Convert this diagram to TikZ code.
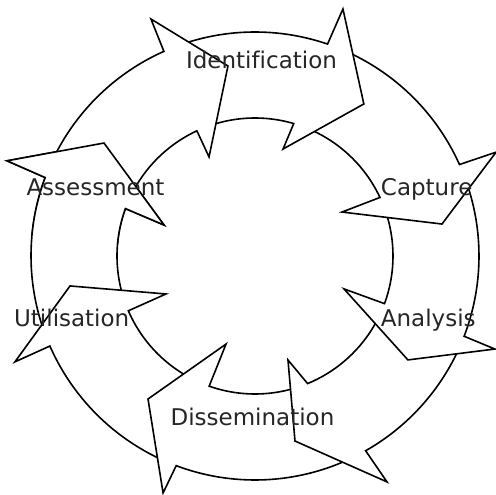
\documentclass[tikz,border=0pt]{standalone}
\usepackage{fontspec}
\setsansfont{DejaVu Sans}[Ligatures=NoCommon]
\usepackage{xcolor}
\usepackage{tikz}
\definecolor{inkdark}{HTML}{262626}
\tikzset{
  bandarrow/.style={fill=white, draw=black, line width=1.6pt, line join=miter},
  lbl/.style={font=\sffamily\fontsize{23}{27}\selectfont, text=inkdark, anchor=base, inner sep=0pt},
}
\newcommand{\Rout}{224}
\newcommand{\Rin}{138}
% #1/#2 tail outer/inner angle, #3 head outer angle,
% #4 outer shoulder, #5 tip, #6 inner shoulder, #7 head inner angle
\newcommand{\bandpath}[7]{(#1:\Rout) arc[start angle=#1, end angle=#3, radius=\Rout]
  -- (#4) -- (#5) -- (#6) -- (#7:\Rin) arc[start angle=#7, end angle=#2, radius=\Rin]}

\begin{document}
\begin{tikzpicture}[x=1pt, y=1pt]
  \useasboundingbox (-255,-239) rectangle (241,256);
  % each arrow lies over the tail of the next one (clockwise)
  \path[bandarrow] \bandpath{-156.3}{-156.6}{-200.5}{-201.0:265.6}{-216.8:188.6}{-198.8:96.1}{-200.1} -- cycle;
  \path[bandarrow] \bandpath{-110.6}{-109.4}{-156.3}{-156.2:262.4}{-170.8:187.4}{-156.9:96.8}{-156.6} -- cycle;
  \path[bandarrow] \bandpath{-60.4}{-67.6}{-110.6}{-111.2:254.2}{-126.8:178.6}{-108.2:92.7}{-109.4} -- cycle;
  \path[bandarrow] \bandpath{-21.0}{-20.2}{-60.4}{-59.7:261.7}{-77.8:189.3}{-72.4:109.1}{-67.6} -- cycle;
  \path[bandarrow] \bandpath{24.1}{25.1}{-21.0}{-21.2:257.3}{-34.2:184.9}{-20.3:94.9}{-20.2} -- cycle;
  \path[bandarrow] \bandpath{71.1}{73.7}{24.1}{23.3:262.5}{9.7:189.7}{26.8:97.5}{25.1} -- cycle;
  \path[bandarrow] \bandpath{114.0}{114.9}{71.1}{70.4:262.2}{54.4:187}{75.3:110.6}{73.7} -- cycle;
  \path[bandarrow] \bandpath{159.5}{159.9}{114.0}{113.7:258.8}{98.1:191.9}{114.9:109.2}{114.9} -- cycle;
  % first arrow's head again, over the last one's tail
  \fill[white] \bandpath{-185}{-185}{-200.5}{-201.0:265.6}{-216.8:188.6}{-198.8:96.1}{-200.1} -- cycle;
  \draw[bandarrow, fill=none] \bandpath{-185}{-185}{-200.5}{-201.0:265.6}{-216.8:188.6}{-198.8:96.1}{-200.1};

  \node[lbl] (identification) at (6.5,187) {Identification};
  \node[lbl] (capture) at (171.7,60.3) {Capture};
  \node[lbl] (analysis) at (173.3,-70.7) {Analysis};
  \node[lbl] (dissemination) at (-2.5,-169.7) {Dissemination};
  \node[lbl] (utilisation) at (-183.3,-70.7) {Utilisation};
  \node[lbl] (assessment) at (-159.5,60) {Assessment};
\end{tikzpicture}
\end{document}
